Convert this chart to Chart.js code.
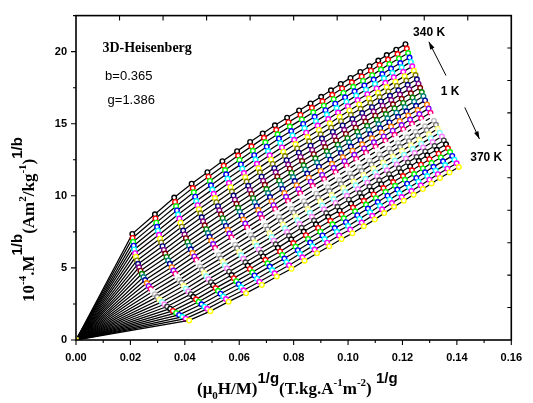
<!DOCTYPE html>
<html lang="en">
<head>
<meta charset="UTF-8">
<title>Modified Arrott plot, 3D-Heisenberg</title>
<script src="https://cdn.jsdelivr.net/npm/chart.js"></script>
<style>
  body { margin: 0; background: #fff; }
  canvas { display: block; }
</style>
</head>
<body>
<canvas id="arrott" width="533" height="403"></canvas>
<script>
// Isotherms, 340 K to 370 K in 1 K steps
const temps = [340, 341, 342, 343, 344, 345, 346, 347, 348, 349, 350, 351, 352, 353, 354, 355,
               356, 357, 358, 359, 360, 361, 362, 363, 364, 365, 366, 367, 368, 369, 370];

// Symbol colours, one per isotherm (Origin default palette)
const markerColors = ['#000000', '#ff0000', '#00ff00', '#0000ff', '#00ffff', '#ff00ff', '#ffff00', '#808000',
                      '#000080', '#800080', '#800000', '#008000', '#008080', '#0000a0', '#ff8000', '#8000ff',
                      '#ff0080', '#ffffff', '#c0c0c0', '#808080', '#ffff80', '#80ffff', '#ff80ff', '#404040',
                      '#000000', '#ff0000', '#00ff00', '#0000ff', '#00ffff', '#ff00ff', '#ffff00'];

// (mu0 H / M)^(1/g) for each applied field (rows), one value per isotherm
const fieldX = [
  [0.0207,0.0208,0.0210,0.0212,0.0214,0.0217,0.0220,0.0224,0.0228,0.0232,0.0237,0.0242,0.0248,0.0254,0.0260,0.0267,0.0274,0.0282,0.0290,0.0298,0.0307,0.0316,0.0325,0.0335,0.0346,0.0356,0.0368,0.0379,0.0391,0.0403,0.0416],
  [0.0290,0.0292,0.0295,0.0298,0.0301,0.0305,0.0309,0.0313,0.0318,0.0323,0.0328,0.0333,0.0339,0.0345,0.0352,0.0358,0.0365,0.0372,0.0380,0.0388,0.0396,0.0404,0.0413,0.0422,0.0431,0.0441,0.0451,0.0461,0.0472,0.0482,0.0494],
  [0.0361,0.0364,0.0368,0.0371,0.0375,0.0380,0.0384,0.0389,0.0394,0.0399,0.0404,0.0410,0.0416,0.0422,0.0428,0.0435,0.0442,0.0449,0.0456,0.0463,0.0471,0.0479,0.0487,0.0496,0.0504,0.0513,0.0522,0.0531,0.0541,0.0551,0.0561],
  [0.0425,0.0429,0.0433,0.0438,0.0442,0.0447,0.0452,0.0457,0.0462,0.0467,0.0473,0.0479,0.0485,0.0491,0.0497,0.0504,0.0511,0.0518,0.0525,0.0532,0.0540,0.0547,0.0555,0.0563,0.0572,0.0580,0.0589,0.0598,0.0607,0.0616,0.0625],
  [0.0483,0.0487,0.0492,0.0496,0.0501,0.0506,0.0511,0.0516,0.0522,0.0527,0.0533,0.0539,0.0545,0.0551,0.0558,0.0564,0.0571,0.0578,0.0585,0.0592,0.0600,0.0607,0.0615,0.0623,0.0631,0.0639,0.0648,0.0656,0.0665,0.0674,0.0683],
  [0.0538,0.0543,0.0548,0.0552,0.0557,0.0562,0.0568,0.0573,0.0579,0.0584,0.0590,0.0596,0.0602,0.0609,0.0615,0.0622,0.0629,0.0635,0.0642,0.0650,0.0657,0.0664,0.0672,0.0680,0.0688,0.0696,0.0704,0.0712,0.0721,0.0730,0.0738],
  [0.0592,0.0596,0.0601,0.0606,0.0611,0.0617,0.0622,0.0627,0.0633,0.0639,0.0645,0.0651,0.0657,0.0664,0.0670,0.0677,0.0683,0.0690,0.0697,0.0704,0.0712,0.0719,0.0727,0.0734,0.0742,0.0750,0.0758,0.0766,0.0774,0.0783,0.0792],
  [0.0640,0.0645,0.0650,0.0655,0.0660,0.0665,0.0671,0.0676,0.0682,0.0688,0.0694,0.0700,0.0706,0.0713,0.0719,0.0726,0.0732,0.0739,0.0746,0.0753,0.0761,0.0768,0.0776,0.0783,0.0791,0.0799,0.0807,0.0815,0.0823,0.0832,0.0840],
  [0.0686,0.0691,0.0696,0.0701,0.0706,0.0712,0.0717,0.0723,0.0729,0.0734,0.0740,0.0747,0.0753,0.0759,0.0766,0.0772,0.0779,0.0786,0.0793,0.0800,0.0807,0.0814,0.0822,0.0829,0.0837,0.0845,0.0853,0.0861,0.0869,0.0877,0.0886],
  [0.0731,0.0736,0.0741,0.0746,0.0751,0.0757,0.0762,0.0768,0.0774,0.0780,0.0786,0.0792,0.0798,0.0804,0.0811,0.0818,0.0824,0.0831,0.0838,0.0845,0.0852,0.0860,0.0867,0.0875,0.0882,0.0890,0.0898,0.0906,0.0914,0.0923,0.0931],
  [0.0776,0.0781,0.0786,0.0791,0.0796,0.0802,0.0807,0.0813,0.0819,0.0825,0.0831,0.0837,0.0843,0.0850,0.0856,0.0863,0.0870,0.0876,0.0883,0.0890,0.0898,0.0905,0.0912,0.0920,0.0927,0.0935,0.0943,0.0951,0.0959,0.0967,0.0976],
  [0.0820,0.0825,0.0830,0.0835,0.0840,0.0846,0.0851,0.0857,0.0862,0.0868,0.0874,0.0880,0.0886,0.0893,0.0899,0.0905,0.0912,0.0919,0.0926,0.0932,0.0940,0.0947,0.0954,0.0961,0.0969,0.0976,0.0984,0.0992,0.1000,0.1008,0.1016],
  [0.0862,0.0867,0.0872,0.0877,0.0882,0.0888,0.0893,0.0899,0.0904,0.0910,0.0916,0.0922,0.0928,0.0935,0.0941,0.0947,0.0954,0.0961,0.0968,0.0974,0.0982,0.0989,0.0996,0.1003,0.1011,0.1018,0.1026,0.1034,0.1042,0.1050,0.1058],
  [0.0901,0.0906,0.0911,0.0917,0.0922,0.0927,0.0933,0.0938,0.0944,0.0950,0.0956,0.0962,0.0968,0.0974,0.0981,0.0987,0.0994,0.1000,0.1007,0.1014,0.1021,0.1028,0.1036,0.1043,0.1050,0.1058,0.1066,0.1073,0.1081,0.1089,0.1098],
  [0.0937,0.0942,0.0947,0.0953,0.0958,0.0963,0.0969,0.0974,0.0980,0.0986,0.0992,0.0998,0.1004,0.1010,0.1016,0.1023,0.1030,0.1036,0.1043,0.1050,0.1057,0.1064,0.1071,0.1079,0.1086,0.1094,0.1102,0.1109,0.1117,0.1125,0.1133],
  [0.0973,0.0978,0.0983,0.0989,0.0994,0.0999,0.1005,0.1010,0.1016,0.1022,0.1028,0.1034,0.1040,0.1046,0.1052,0.1059,0.1066,0.1072,0.1079,0.1086,0.1093,0.1100,0.1107,0.1115,0.1122,0.1130,0.1138,0.1145,0.1153,0.1161,0.1169],
  [0.1009,0.1014,0.1019,0.1024,0.1030,0.1035,0.1041,0.1046,0.1052,0.1058,0.1064,0.1070,0.1076,0.1082,0.1088,0.1095,0.1101,0.1108,0.1115,0.1122,0.1129,0.1136,0.1143,0.1151,0.1158,0.1166,0.1173,0.1181,0.1189,0.1197,0.1205],
  [0.1045,0.1050,0.1055,0.1060,0.1066,0.1071,0.1077,0.1082,0.1088,0.1094,0.1100,0.1106,0.1112,0.1118,0.1124,0.1131,0.1137,0.1144,0.1151,0.1158,0.1165,0.1172,0.1179,0.1187,0.1194,0.1202,0.1209,0.1217,0.1225,0.1233,0.1241],
  [0.1079,0.1084,0.1089,0.1094,0.1099,0.1105,0.1110,0.1116,0.1121,0.1127,0.1133,0.1139,0.1145,0.1152,0.1158,0.1164,0.1171,0.1178,0.1184,0.1191,0.1198,0.1206,0.1213,0.1220,0.1228,0.1235,0.1243,0.1251,0.1259,0.1267,0.1275],
  [0.1111,0.1116,0.1121,0.1126,0.1132,0.1137,0.1142,0.1148,0.1154,0.1159,0.1165,0.1171,0.1178,0.1184,0.1190,0.1197,0.1203,0.1210,0.1217,0.1224,0.1231,0.1238,0.1245,0.1252,0.1260,0.1268,0.1275,0.1283,0.1291,0.1299,0.1307],
  [0.1142,0.1147,0.1152,0.1158,0.1163,0.1168,0.1174,0.1179,0.1185,0.1191,0.1197,0.1203,0.1209,0.1215,0.1221,0.1228,0.1235,0.1241,0.1248,0.1255,0.1262,0.1269,0.1276,0.1284,0.1291,0.1299,0.1307,0.1314,0.1322,0.1330,0.1338],
  [0.1177,0.1182,0.1187,0.1192,0.1197,0.1203,0.1208,0.1214,0.1219,0.1225,0.1231,0.1237,0.1243,0.1250,0.1256,0.1262,0.1269,0.1276,0.1283,0.1289,0.1297,0.1304,0.1311,0.1318,0.1326,0.1333,0.1341,0.1349,0.1357,0.1365,0.1373],
  [0.1211,0.1216,0.1221,0.1226,0.1231,0.1236,0.1242,0.1248,0.1253,0.1259,0.1265,0.1271,0.1277,0.1283,0.1290,0.1296,0.1303,0.1310,0.1316,0.1323,0.1330,0.1337,0.1345,0.1352,0.1360,0.1367,0.1375,0.1383,0.1391,0.1399,0.1407]
];

// 1e-4 * M^(1/b) for the same fields and isotherms
const fieldY = [
  [7.36,7.08,6.81,6.54,6.28,6.02,5.77,5.52,5.28,5.04,4.81,4.59,4.37,4.16,3.95,3.75,3.55,3.36,3.17,2.99,2.81,2.64,2.48,2.32,2.17,2.02,1.88,1.74,1.61,1.48,1.36],
  [8.72,8.43,8.14,7.85,7.58,7.30,7.03,6.77,6.51,6.25,6.00,5.76,5.52,5.28,5.05,4.82,4.60,4.38,4.17,3.97,3.76,3.56,3.37,3.18,3.00,2.82,2.65,2.48,2.31,2.16,2.00],
  [9.88,9.58,9.28,8.99,8.70,8.42,8.14,7.86,7.59,7.32,7.06,6.80,6.54,6.29,6.04,5.80,5.56,5.33,5.10,4.87,4.65,4.43,4.22,4.01,3.80,3.60,3.41,3.21,3.02,2.84,2.66],
  [10.84,10.54,10.24,9.94,9.64,9.35,9.07,8.79,8.51,8.23,7.96,7.69,7.42,7.16,6.90,6.65,6.40,6.15,5.90,5.66,5.43,5.19,4.96,4.74,4.51,4.29,4.08,3.87,3.66,3.45,3.25],
  [11.64,11.33,11.03,10.73,10.43,10.14,9.85,9.56,9.28,9.00,8.72,8.45,8.17,7.91,7.64,7.38,7.12,6.86,6.61,6.36,6.11,5.87,5.63,5.39,5.16,4.93,4.70,4.48,4.25,4.04,3.82],
  [12.40,12.09,11.79,11.49,11.19,10.89,10.60,10.30,10.02,9.73,9.45,9.17,8.89,8.62,8.35,8.08,7.81,7.55,7.29,7.04,6.78,6.53,6.28,6.04,5.80,5.56,5.32,5.09,4.85,4.63,4.40],
  [13.10,12.79,12.49,12.18,11.88,11.58,11.29,10.99,10.70,10.41,10.13,9.84,9.56,9.28,9.01,8.74,8.46,8.20,7.93,7.67,7.41,7.15,6.89,6.64,6.39,6.14,5.90,5.65,5.41,5.18,4.94],
  [13.74,13.43,13.12,12.82,12.52,12.22,11.92,11.63,11.33,11.04,10.76,10.47,10.19,9.91,9.63,9.35,9.08,8.81,8.54,8.27,8.01,7.75,7.49,7.23,6.98,6.72,6.48,6.23,5.98,5.74,5.50],
  [14.33,14.02,13.71,13.41,13.11,12.81,12.51,12.21,11.92,11.63,11.34,11.05,10.77,10.48,10.20,9.93,9.65,9.38,9.10,8.84,8.57,8.30,8.04,7.78,7.52,7.27,7.01,6.76,6.51,6.27,6.02],
  [14.89,14.58,14.27,13.97,13.66,13.36,13.06,12.76,12.47,12.17,11.88,11.59,11.30,11.02,10.74,10.46,10.18,9.90,9.63,9.35,9.08,8.82,8.55,8.29,8.02,7.77,7.51,7.25,7.00,6.75,6.50],
  [15.42,15.11,14.80,14.49,14.19,13.89,13.59,13.29,12.99,12.70,12.41,12.12,11.83,11.54,11.26,10.98,10.70,10.42,10.15,9.87,9.60,9.33,9.06,8.80,8.54,8.27,8.02,7.76,7.50,7.25,7.00],
  [15.92,15.61,15.30,14.99,14.69,14.38,14.08,13.78,13.48,13.18,12.89,12.60,12.31,12.02,11.73,11.45,11.16,10.88,10.60,10.33,10.05,9.78,9.51,9.24,8.97,8.70,8.44,8.17,7.91,7.66,7.40],
  [16.41,16.10,15.79,15.48,15.18,14.87,14.57,14.27,13.97,13.67,13.38,13.09,12.80,12.51,12.22,11.94,11.65,11.37,11.09,10.82,10.54,10.27,10.00,9.73,9.46,9.19,8.93,8.66,8.40,8.15,7.89],
  [16.87,16.56,16.25,15.94,15.64,15.33,15.03,14.73,14.43,14.13,13.84,13.55,13.26,12.97,12.68,12.40,12.11,11.83,11.55,11.28,11.00,10.73,10.46,10.19,9.92,9.65,9.39,9.12,8.86,8.61,8.35],
  [17.32,17.01,16.70,16.39,16.09,15.78,15.48,15.18,14.88,14.58,14.29,14.00,13.71,13.42,13.13,12.85,12.56,12.28,12.00,11.73,11.45,11.18,10.91,10.64,10.37,10.10,9.84,9.57,9.31,9.06,8.80],
  [17.76,17.45,17.14,16.83,16.53,16.22,15.92,15.62,15.32,15.02,14.73,14.44,14.15,13.86,13.57,13.29,13.00,12.72,12.44,12.17,11.89,11.62,11.35,11.08,10.81,10.54,10.28,10.01,9.75,9.50,9.24],
  [18.18,17.87,17.56,17.25,16.95,16.64,16.34,16.04,15.74,15.44,15.15,14.86,14.57,14.28,13.99,13.71,13.42,13.14,12.86,12.59,12.31,12.04,11.77,11.50,11.23,10.96,10.70,10.43,10.17,9.92,9.66],
  [18.59,18.28,17.97,17.66,17.36,17.05,16.75,16.45,16.15,15.85,15.56,15.27,14.98,14.69,14.40,14.12,13.83,13.55,13.27,13.00,12.72,12.45,12.18,11.91,11.64,11.37,11.11,10.84,10.58,10.33,10.07],
  [18.99,18.68,18.37,18.06,17.76,17.45,17.15,16.85,16.55,16.25,15.96,15.67,15.38,15.09,14.80,14.52,14.23,13.95,13.67,13.40,13.12,12.85,12.58,12.31,12.04,11.77,11.51,11.24,10.98,10.73,10.47],
  [19.38,19.07,18.76,18.45,18.15,17.84,17.54,17.24,16.94,16.64,16.35,16.06,15.77,15.48,15.19,14.91,14.62,14.34,14.06,13.79,13.51,13.24,12.97,12.70,12.43,12.16,11.90,11.63,11.37,11.12,10.86],
  [19.76,19.45,19.14,18.83,18.53,18.22,17.92,17.62,17.32,17.02,16.73,16.44,16.15,15.86,15.57,15.29,15.00,14.72,14.44,14.17,13.89,13.62,13.35,13.08,12.81,12.54,12.28,12.01,11.75,11.50,11.24],
  [20.14,19.83,19.52,19.21,18.91,18.60,18.30,18.00,17.70,17.40,17.11,16.82,16.53,16.24,15.95,15.67,15.38,15.10,14.82,14.55,14.27,14.00,13.73,13.46,13.19,12.92,12.66,12.39,12.13,11.88,11.62],
  [20.52,20.21,19.90,19.59,19.29,18.98,18.68,18.38,18.08,17.78,17.49,17.20,16.91,16.62,16.33,16.05,15.76,15.48,15.20,14.93,14.65,14.38,14.11,13.84,13.57,13.30,13.04,12.77,12.51,12.26,12.00]
];

const SANS = 'Arial, "Liberation Sans", sans-serif';
const SERIF = '"Times New Roman", "Liberation Serif", serif';

// every isotherm starts at the origin, then runs through the field points
const datasets = temps.map((T, k) => ({
  label: T + ' K',
  data: [{ x: 0, y: 0 }].concat(fieldX.map((row, j) => ({ x: row[k], y: fieldY[j][k] }))),
  showLine: true,
  tension: 0,
  borderColor: '#000',
  borderWidth: 1.25,
  pointRadius: 2.3,
  pointBorderWidth: 1.4,
  pointBorderColor: markerColors[k],
  pointBackgroundColor: '#fff',
  order: temps.length - k
}));

// draws text pieces one after another with their own font and baseline shift
function drawRich(ctx, x, y, parts) {
  for (const [txt, font, dy] of parts) {
    ctx.font = font;
    ctx.fillText(txt, x, y + dy);
    x += ctx.measureText(txt).width;
  }
}

function arrow(ctx, x1, y1, x2, y2) {
  const a = Math.atan2(y2 - y1, x2 - x1);
  ctx.beginPath();
  ctx.moveTo(x1, y1);
  ctx.lineTo(x2, y2);
  ctx.stroke();
  ctx.beginPath();
  ctx.moveTo(x2, y2);
  ctx.lineTo(x2 - 8 * Math.cos(a - 0.3), y2 - 8 * Math.sin(a - 0.3));
  ctx.lineTo(x2 - 8 * Math.cos(a + 0.3), y2 - 8 * Math.sin(a + 0.3));
  ctx.closePath();
  ctx.fill();
}

// box round the plot with the tick marks of all four sides
const frame = {
  id: 'frame',
  afterDatasetsDraw(chart) {
    const { ctx, chartArea: a, scales: { x, y } } = chart;
    ctx.save();
    ctx.strokeStyle = '#000';
    ctx.lineWidth = 1.6;
    ctx.strokeRect(a.left, a.top, a.right - a.left, a.bottom - a.top);
    ctx.lineWidth = 1.1;
    ctx.beginPath();
    for (let i = 0; i <= 16; i++) {
      const px = x.getPixelForValue(i * 0.01);
      ctx.moveTo(px, a.bottom);
      ctx.lineTo(px, a.bottom + (i % 2 ? 3 : 5));
    }
    for (let i = 0; i <= 9; i++) {
      const py = y.getPixelForValue(i * 2.5);
      ctx.moveTo(a.left, py);
      ctx.lineTo(a.left - (i % 2 ? 3 : 5), py);
    }
    // top and right axes have their own ten divisions, ticks pointing in
    for (let i = 1; i < 10; i++) {
      const px = a.left + (a.right - a.left) * i / 10;
      ctx.moveTo(px, a.top);
      ctx.lineTo(px, a.top + 5);
      const py = a.top + (a.bottom - a.top) * i / 10;
      ctx.moveTo(a.right, py);
      ctx.lineTo(a.right - 4, py);
    }
    ctx.stroke();
    ctx.restore();
  }
};

// axis titles, model parameters and the temperature arrows
const notes = {
  id: 'notes',
  afterDraw(chart) {
    const { ctx, scales: { x, y } } = chart;
    const px = v => x.getPixelForValue(v);
    const py = v => y.getPixelForValue(v);
    ctx.save();
    ctx.fillStyle = '#000';
    ctx.strokeStyle = '#000';
    ctx.textAlign = 'left';
    ctx.textBaseline = 'alphabetic';

    ctx.font = 'bold 14px ' + SERIF;
    ctx.fillText('3D-Heisenberg', px(0.0097), py(20.0));
    ctx.font = '13px ' + SANS;
    ctx.fillText('b=0.365', px(0.0107), py(18.02));
    ctx.fillText('g=1.386', px(0.0116), py(16.36));

    ctx.font = 'bold 12px ' + SANS;
    ctx.fillText('340 K', px(0.1239), py(21.08));
    ctx.fillText('1 K', px(0.1341), py(16.99));
    ctx.fillText('370 K', px(0.1449), py(12.39));
    ctx.lineWidth = 1;
    arrow(ctx, px(0.1360), py(18.34), px(0.1297), py(20.68));
    arrow(ctx, px(0.1429), py(16.13), px(0.1483), py(13.94));

    const big = 'bold 17px ' + SERIF;
    const small = 'bold 11px ' + SERIF;
    const sup = 'bold 15px ' + SANS;
    drawRich(ctx, 197, 394, [
      ['(\u03bc', big, 0], ['0', small, 5], ['H/M)', big, 0], ['1/g', sup, -11],
      ['(T.kg.A', big, 0], ['-1', small, -8], ['m', big, 0], ['-2', small, -8],
      [')', big, 0], [' 1/g', sup, -11]
    ]);

    ctx.translate(34, 302);
    ctx.rotate(-Math.PI / 2);
    drawRich(ctx, 0, 0, [
      ['10', big, 0], ['-4', small, -8], ['.M', big, 0], ['1/b', sup, -12],
      ['(Am', big, 0], ['2', small, -8], ['/kg', big, 0], ['-1', small, -8],
      [')', big, 0], ['1/b', sup, -12]
    ]);
    ctx.restore();
  }
};

new Chart(document.getElementById('arrott'), {
  type: 'scatter',
  data: { datasets },
  options: {
    responsive: false,
    animation: false,
    devicePixelRatio: 1,
    layout: { padding: { top: 9, right: 12, left: 0, bottom: 0 } },
    plugins: { legend: { display: false }, tooltip: { enabled: false } },
    scales: {
      x: {
        min: 0,
        max: 0.16,
        grid: { display: false, drawTicks: false },
        border: { display: false },
        ticks: {
          stepSize: 0.02,
          padding: 11,
          color: '#000',
          maxRotation: 0,
          autoSkip: false,
          font: { family: SANS, weight: 'bold', size: 11 },
          callback: v => v.toFixed(2)
        },
        afterFit: s => { s.height = 63; }
      },
      y: {
        min: 0,
        max: 22.5,
        grid: { display: false, drawTicks: false },
        border: { display: false },
        ticks: {
          stepSize: 5,
          padding: 9,
          color: '#000',
          font: { family: SANS, weight: 'bold', size: 11 },
          callback: v => (v % 5 === 0 ? v : '')
        },
        afterFit: s => { s.width = 76; }
      }
    }
  },
  plugins: [frame, notes]
});
</script>
</body>
</html>
